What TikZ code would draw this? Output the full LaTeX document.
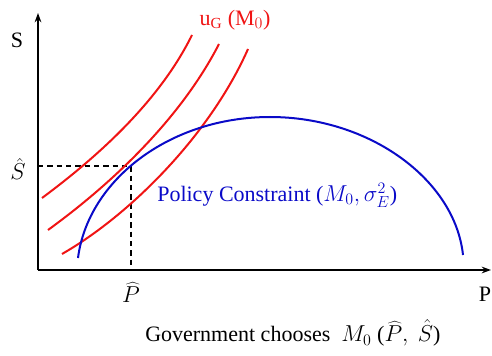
\documentclass[tikz,border=0pt]{standalone}
\usepackage{fontspec}
\setmainfont{Liberation Serif}
\usetikzlibrary{arrows.meta}
\definecolor{cred}{RGB}{240,20,20}
\definecolor{cblue}{RGB}{10,10,200}
\tikzset{
  axis/.style={line width=1.1pt,-{Stealth[length=7pt,width=5pt]}},
  ucurve/.style={cred,line width=1.5pt},
  pcurve/.style={cblue,line width=1.5pt},
  guide/.style={black,dashed,line width=1.1pt,dash pattern=on 4pt off 3pt},
  lbl/.style={inner sep=0pt,font=\fontsize{16.5}{19}\selectfont}
}
\begin{document}
\begin{tikzpicture}[x=0.75pt,y=-0.75pt]
\useasboundingbox (0,0) rectangle (492,356);
\coordinate (O) at (38,270);
\coordinate (ytop) at (38,13);
\coordinate (xend) at (491,270);
\coordinate (T) at (131,166);
\coordinate (Sy) at (38,166);
\coordinate (Px) at (131,270);
% guides
\draw[guide] (Sy) -- (T) -- (Px);
% red indifference curves
\draw[ucurve] (42,198) .. controls (100,155) and (160,100) .. (192,35);
\draw[ucurve] (48,230) .. controls (110,185) and (180,120) .. (219,44);
\draw[ucurve] (62,254) .. controls (130,215) and (210,135) .. (248,49);
% blue constraint
\draw[pcurve] (78,258) .. controls (88,180) and (170,117) .. (270,117)
  .. controls (370,117) and (455,180) .. (463,255);
% axes
\draw[axis] (O) -- (ytop);
\draw[axis] (O) -- (xend);
% labels
\node[lbl] (S) at (17,40) {S};
\node[lbl] (P) at (485,294) {P};
\node[lbl] (Shat) at (18,169) {$\hat{S}$};
\node[lbl] (Phat) at (131,292) {$\widehat{P}$};
\node[lbl,text=cred] (uG) at (235,20) {u$_{\mathrm{G}}$ (M$_0$)};
\node[lbl,text=cblue,anchor=west] (pc) at (157,195) {Policy Constraint ($M_0,\sigma_E^2$)};
\node[lbl,anchor=west] (gc) at (145,333) {Government chooses \ $M_0$ ($\widehat{P},\ \hat{S}$)};
\end{tikzpicture}
\end{document}
